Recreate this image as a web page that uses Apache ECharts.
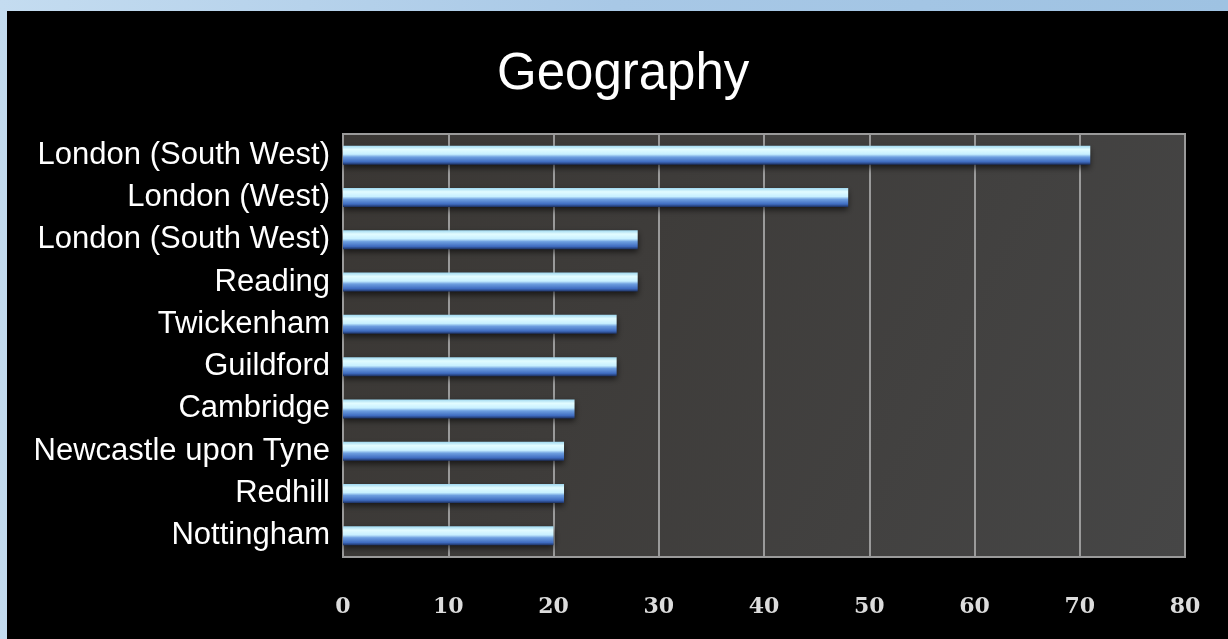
<!DOCTYPE html>
<html>
<head>
<meta charset="utf-8">
<script src="https://cdn.jsdelivr.net/npm/echarts@6/dist/echarts.min.js"></script>
<style>
  html, body { margin: 0; padding: 0; width: 1228px; height: 639px; overflow: hidden;
    background: linear-gradient(90deg, #c4dcf0 0%, #a8c8e6 50%, #9ec2e2 100%); }
  #frame { position: absolute; left: 7px; top: 11px; width: 1221px; height: 628px; background: #000; }
  #chart { width: 1221px; height: 628px; }
</style>
</head>
<body>
<div id="frame"><div id="chart"></div></div>
<script>
const categories = [
  "London (South West)", "London (West)", "London (South West)", "Reading",
  "Twickenham", "Guildford", "Cambridge", "Newcastle upon Tyne", "Redhill", "Nottingham"
];
const values = [71, 48, 28, 28, 26, 26, 22, 21, 21, 20];
const xTicks = [0, 10, 20, 30, 40, 50, 60, 70, 80];
const titleText = "Geography";

const chart = echarts.init(document.getElementById('chart'), null, { renderer: 'canvas' });
chart.setOption({
  backgroundColor: '#000',
  animation: false,
  title: {
    text: titleText,
    left: 485,
    top: 33,
    textStyle: { color: '#fff', fontFamily: 'Liberation Sans', fontSize: 51, fontWeight: 'normal' }
  },
  grid: {
    left: 336, right: 43, top: 123, bottom: 82,
    show: true,
    backgroundColor: new echarts.graphic.LinearGradient(0, 0, 1, 1, [
      { offset: 0, color: '#3a3734' },
      { offset: 1, color: '#464646' }
    ]),
    borderColor: '#9a9a9a',
    borderWidth: 2
  },
  xAxis: {
    type: 'value',
    min: xTicks[0], max: xTicks[xTicks.length - 1], interval: 10,
    axisLine: { show: false },
    axisTick: { show: false },
    splitLine: { show: true, lineStyle: { color: '#9a9a9a', width: 2 } },
    axisLabel: {
      color: '#dcdcdc', fontFamily: 'DejaVu Serif', fontWeight: 'bold', fontSize: 22, margin: 39,
      formatter: v => String(v)
    }
  },
  yAxis: {
    type: 'category',
    data: categories,
    inverse: true,
    axisLine: { show: false },
    axisTick: { show: false },
    splitLine: { show: false },
    axisLabel: {
      color: '#fff', fontFamily: 'Liberation Sans', fontSize: 31, margin: 13
    }
  },
  series: [{
    type: 'bar',
    data: values,
    barWidth: 19,
    itemStyle: {
      color: new echarts.graphic.LinearGradient(0, 0, 0, 1, [
        { offset: 0, color: '#9fd8f0' },
        { offset: 0.2, color: '#e2fcff' },
        { offset: 0.45, color: '#c8f0ff' },
        { offset: 0.6, color: '#6e9fe0' },
        { offset: 0.85, color: '#3f6cc0' },
        { offset: 1, color: '#1c3060' }
      ]),
      shadowColor: 'rgba(0,0,0,0.6)',
      shadowBlur: 6,
      shadowOffsetY: 3
    }
  }]
});
</script>
</body>
</html>
